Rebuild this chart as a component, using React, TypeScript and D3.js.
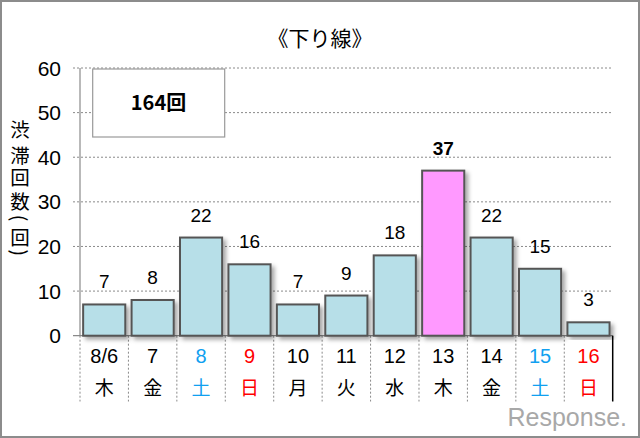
import * as d3 from "d3";

const days = ["8/6", "7", "8", "9", "10", "11", "12", "13", "14", "15", "16"];
const weekdays = ["木", "金", "土", "日", "月", "火", "水", "木", "金", "土", "日"];
const counts = [7, 8, 22, 16, 7, 9, 18, 37, 22, 15, 3];
const yTicks = [0, 10, 20, 30, 40, 50, 60];
const highlightDays = ["13"];
const yLabelChars = ["渋", "滞", "回", "数", "(", "回", ")"];

const W = 640, H = 438;
const M = { left: 80, right: 612.7, top: 68, zero: 335.7, bottom: 401.5 };
const NUM = "'Liberation Sans', Arial, sans-serif";
const JP = "'Noto Sans CJK JP', sans-serif";

function dayColor(w: string) {
  if (w === "土") return "#10A0F0";
  if (w === "日") return "#FF0000";
  return "#000";
}

export default function App() {
  const x = d3.scaleBand<string>().domain(days).range([M.left, M.right]).paddingInner(0.13).paddingOuter(0.065);
  const cols = d3.scaleBand<string>().domain(days).range([M.left, M.right]).padding(0);
  const y = d3.scaleLinear().domain([0, 60]).range([M.zero, M.top]);
  const cx = (d: string) => (x(d) ?? 0) + x.bandwidth() / 2;
  // vertical label: centre of each glyph along the axis title
  const charY = [130, 155, 178, 201, 218, 237, 253];
  const fs = 19.5;

  return (
    <svg width={W} height={H} viewBox={`0 0 ${W} ${H}`} style={{ position: "fixed", left: 0, top: 0, background: "#fff" }}>
      <defs>
        <filter id="shadow" x="-20%" y="-20%" width="150%" height="150%">
          <feDropShadow dx="3" dy="3" stdDeviation="2" floodColor="#000" floodOpacity="0.35" />
        </filter>
      </defs>
      <rect x={1} y={1} width={W - 2} height={H - 2} fill="#fff" stroke="#8c8c8c" strokeWidth={2} />

      <text x={320} y={46} textAnchor="middle" fontFamily={JP} fontSize={21} fill="#000">《下り線》</text>

      {/* gridlines */}
      {yTicks.filter((t) => t > 0).map((t) => (
        <line key={t} x1={73} x2={M.right} y1={y(t)} y2={y(t)} stroke="#8a8a8a" strokeWidth={1} strokeDasharray="2,2" />
      ))}
      <line x1={73} x2={M.right} y1={y(0)} y2={y(0)} stroke="#8a8a8a" strokeWidth={1.2} />

      {/* axis */}
      <line x1={M.left} x2={M.left} y1={M.top} y2={M.zero} stroke="#8a8a8a" strokeWidth={1.2} />
      {days.map((d) => (
        <line key={d} x1={cols(d)} x2={cols(d)} y1={M.zero} y2={M.bottom} stroke="#8a8a8a" strokeWidth={1} strokeDasharray="2,2" />
      ))}
      <line x1={M.right} x2={M.right} y1={M.zero} y2={M.bottom} stroke="#000" strokeWidth={1.5} />

      {yTicks.map((t) => (
        <text key={t} x={61} y={y(t) + 7.5} textAnchor="end" fontFamily={NUM} fontSize={21} fill="#000">{t}</text>
      ))}

      <text x={20} fontFamily={JP} fontSize={fs} fill="#000" style={{ writingMode: "vertical-rl" }}>
        {yLabelChars.map((c, i) => {
          const half = c === "(" || c === ")" ? 3.3 : fs / 2;
          return <tspan key={i} x={20} y={charY[i] - half}>{c}</tspan>;
        })}
      </text>

      {/* bars */}
      {days.map((d, i) => (
        <rect key={d} x={x(d)} y={y(counts[i])} width={x.bandwidth()} height={y(0) - y(counts[i])}
          fill={highlightDays.includes(d) ? "#FF99FF" : "#B7DFE8"} stroke="#555" strokeWidth={2} filter="url(#shadow)" />
      ))}

      {days.map((d, i) => (
        <text key={d} x={cx(d)} y={y(counts[i]) - 16} textAnchor="middle" fontFamily={NUM} fontSize={19}
          fontWeight={highlightDays.includes(d) ? "bold" : "normal"} fill="#000">{counts[i]}</text>
      ))}

      {days.map((d, i) => (
        <g key={d} fill={dayColor(weekdays[i])}>
          <text x={cx(d)} y={363} textAnchor="middle" fontFamily={NUM} fontSize={20}>{d}</text>
          <text x={cx(d)} y={395} textAnchor="middle" fontFamily={JP} fontSize={19}>{weekdays[i]}</text>
        </g>
      ))}

      {/* total box */}
      <rect x={92.7} y={69} width={132} height={68} fill="#fff" stroke="#999" strokeWidth={1.2} />
      <text x={158.5} y={110} textAnchor="middle" fontFamily={JP} fontSize={20} fontWeight="bold" fill="#000">164回</text>

      <text x={627} y={426} textAnchor="end" fontFamily={NUM} fontSize={25} fill="#a8a8a8">Response.</text>
    </svg>
  );
}
